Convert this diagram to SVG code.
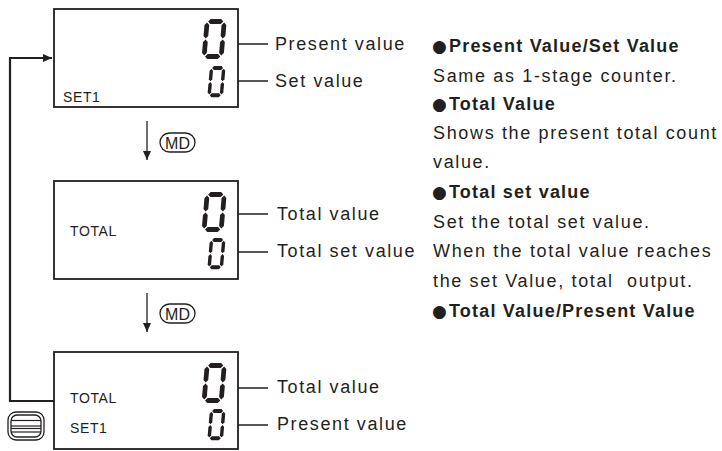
<svg xmlns="http://www.w3.org/2000/svg" width="722" height="451" viewBox="0 0 722 451">
<style>
.box{fill:#fff;stroke:#231f20;stroke-width:1.8}
.lbl{font-family:"Liberation Sans",Arial,sans-serif;font-size:18px;fill:#231f20;letter-spacing:1.6px}
.inb{font-family:"Liberation Sans",Arial,sans-serif;font-size:14px;fill:#231f20;letter-spacing:0.6px}
.txt{font-family:"Liberation Sans",Arial,sans-serif;font-size:18px;fill:#231f20;letter-spacing:1.65px;white-space:pre}
.bold{font-family:"Liberation Sans",Arial,sans-serif;font-size:18px;font-weight:bold;fill:#231f20;letter-spacing:1.2px}
.bul{font-family:"DejaVu Sans",sans-serif;font-size:17px;font-weight:normal;letter-spacing:0}
.md{font-family:"Liberation Sans",Arial,sans-serif;font-size:16px;fill:#231f20;text-anchor:middle}
.ptr{stroke:#231f20;stroke-width:1.3;fill:none}
.thick{stroke:#231f20;stroke-width:2.2;fill:none}
.seg{fill:#231f20}
.pill{fill:#fff;stroke:#231f20;stroke-width:1.3}
</style>
<defs>
<marker id="ah" markerUnits="userSpaceOnUse" markerWidth="8" markerHeight="8" refX="7" refY="4" orient="auto">
<path d="M0,1 L7,4 L0,7 Z" fill="#231f20"/>
</marker>
<marker id="ahb" markerUnits="userSpaceOnUse" markerWidth="10" markerHeight="10" refX="9" refY="5" orient="auto">
<path d="M0,1 L9,5 L0,9 Z" fill="#231f20"/>
</marker>
<g id="zero" class="seg">
<polygon points="3.5,2.5 6,0 17,0 19.5,2.5 17,5 6,5"/>
<polygon points="3.5,37.5 6,35 17,35 19.5,37.5 17,40 6,40"/>
<polygon points="2.5,3.5 5,6 5,17 2.5,19.5 0,17 0,6"/>
<polygon points="20.5,3.5 23,6 23,17 20.5,19.5 18,17 18,6"/>
<polygon points="2.5,20.5 5,23 5,34 2.5,36.5 0,34 0,23"/>
<polygon points="20.5,20.5 23,23 23,34 20.5,36.5 18,34 18,23"/>
</g>
</defs>

<g id="connectors">
<polyline class="thick" points="54,401 10,401 10,58 52,58" marker-end="url(#ahb)"/>
<line class="ptr" x1="147" y1="121" x2="147" y2="160" marker-end="url(#ahb)"/>
<line class="ptr" x1="147" y1="293" x2="147" y2="332" marker-end="url(#ahb)"/>
<line class="ptr" x1="268" y1="44" x2="230" y2="44" marker-end="url(#ah)"/>
<line class="ptr" x1="268" y1="81" x2="230" y2="81" marker-end="url(#ah)"/>
<line class="ptr" x1="268" y1="214" x2="230" y2="214" marker-end="url(#ah)"/>
<line class="ptr" x1="268" y1="252" x2="230" y2="252" marker-end="url(#ah)"/>
<line class="ptr" x1="268" y1="388" x2="230" y2="388" marker-end="url(#ah)"/>
<line class="ptr" x1="268" y1="425" x2="230" y2="425" marker-end="url(#ah)"/>
</g>

<g id="display1">
<rect class="box" x="54" y="9" width="184" height="98"/>
<use href="#zero" transform="translate(205,19) skewX(-5) scale(0.95,1)"/>
<use href="#zero" transform="translate(210,66) skewX(-5) scale(0.68,0.78)"/>
<text class="inb" x="63" y="102">SET1</text>
</g>
<g id="label-present1"><text class="lbl" x="275" y="50">Present value</text></g>
<g id="label-set1"><text class="lbl" x="275" y="87">Set value</text></g>

<g id="md1">
<rect class="pill" x="160" y="133" width="35" height="19" rx="9.5"/>
<text class="md" x="177.5" y="148.5">MD</text>
</g>

<g id="display2">
<rect class="box" x="54" y="181" width="184" height="98"/>
<use href="#zero" transform="translate(205,192) skewX(-5) scale(0.95,1)"/>
<use href="#zero" transform="translate(210,238) skewX(-5) scale(0.68,0.78)"/>
<text class="inb" x="70" y="236">TOTAL</text>
</g>
<g id="label-total2"><text class="lbl" x="277" y="220">Total value</text></g>
<g id="label-totalset2"><text class="lbl" x="277" y="257">Total set value</text></g>

<g id="md2">
<rect class="pill" x="160" y="304" width="35" height="19" rx="9.5"/>
<text class="md" x="177.5" y="319.5">MD</text>
</g>

<g id="display3">
<rect class="box" x="54" y="352" width="184" height="97"/>
<use href="#zero" transform="translate(205,363) skewX(-5) scale(0.95,1)"/>
<use href="#zero" transform="translate(210,409) skewX(-5) scale(0.68,0.78)"/>
<text class="inb" x="70" y="403">TOTAL</text>
<text class="inb" x="70" y="433">SET1</text>
</g>
<g id="label-total3"><text class="lbl" x="277" y="393">Total value</text></g>
<g id="label-present3"><text class="lbl" x="277" y="430">Present value</text></g>

<g id="menu-icon">
<rect x="8" y="412" width="36" height="28" rx="8" fill="#fff" stroke="#231f20" stroke-width="1.3"/>
<rect x="11" y="415" width="30" height="22" rx="6" fill="#fff" stroke="#231f20" stroke-width="1.3"/>
<line x1="11" y1="420.5" x2="41" y2="420.5" stroke="#231f20" stroke-width="1.2"/>
<line x1="11" y1="426" x2="41" y2="426" stroke="#231f20" stroke-width="1.2"/>
<line x1="11" y1="428.5" x2="41" y2="428.5" stroke="#231f20" stroke-width="1.2"/>
<line x1="11" y1="432" x2="41" y2="432" stroke="#231f20" stroke-width="1.2"/>
</g>

<g id="description">
<text class="bold" x="432" y="52"><tspan class="bul">●</tspan><tspan x="449">Present Value/Set Value</tspan></text>
<text class="txt" x="433" y="82">Same as 1-stage counter.</text>
<text class="bold" x="432" y="110"><tspan class="bul">●</tspan><tspan x="449">Total Value</tspan></text>
<text class="txt" x="433" y="139">Shows the present total count</text>
<text class="txt" x="433" y="168">value.</text>
<text class="bold" x="432" y="198"><tspan class="bul">●</tspan><tspan x="449">Total set value</tspan></text>
<text class="txt" x="433" y="228">Set the total set value.</text>
<text class="txt" x="433" y="257">When the total value reaches</text>
<text class="txt" x="433" y="287">the set Value, total  output.</text>
<text class="bold" x="432" y="317"><tspan class="bul">●</tspan><tspan x="449">Total Value/Present Value</tspan></text>
</g>
</svg>
